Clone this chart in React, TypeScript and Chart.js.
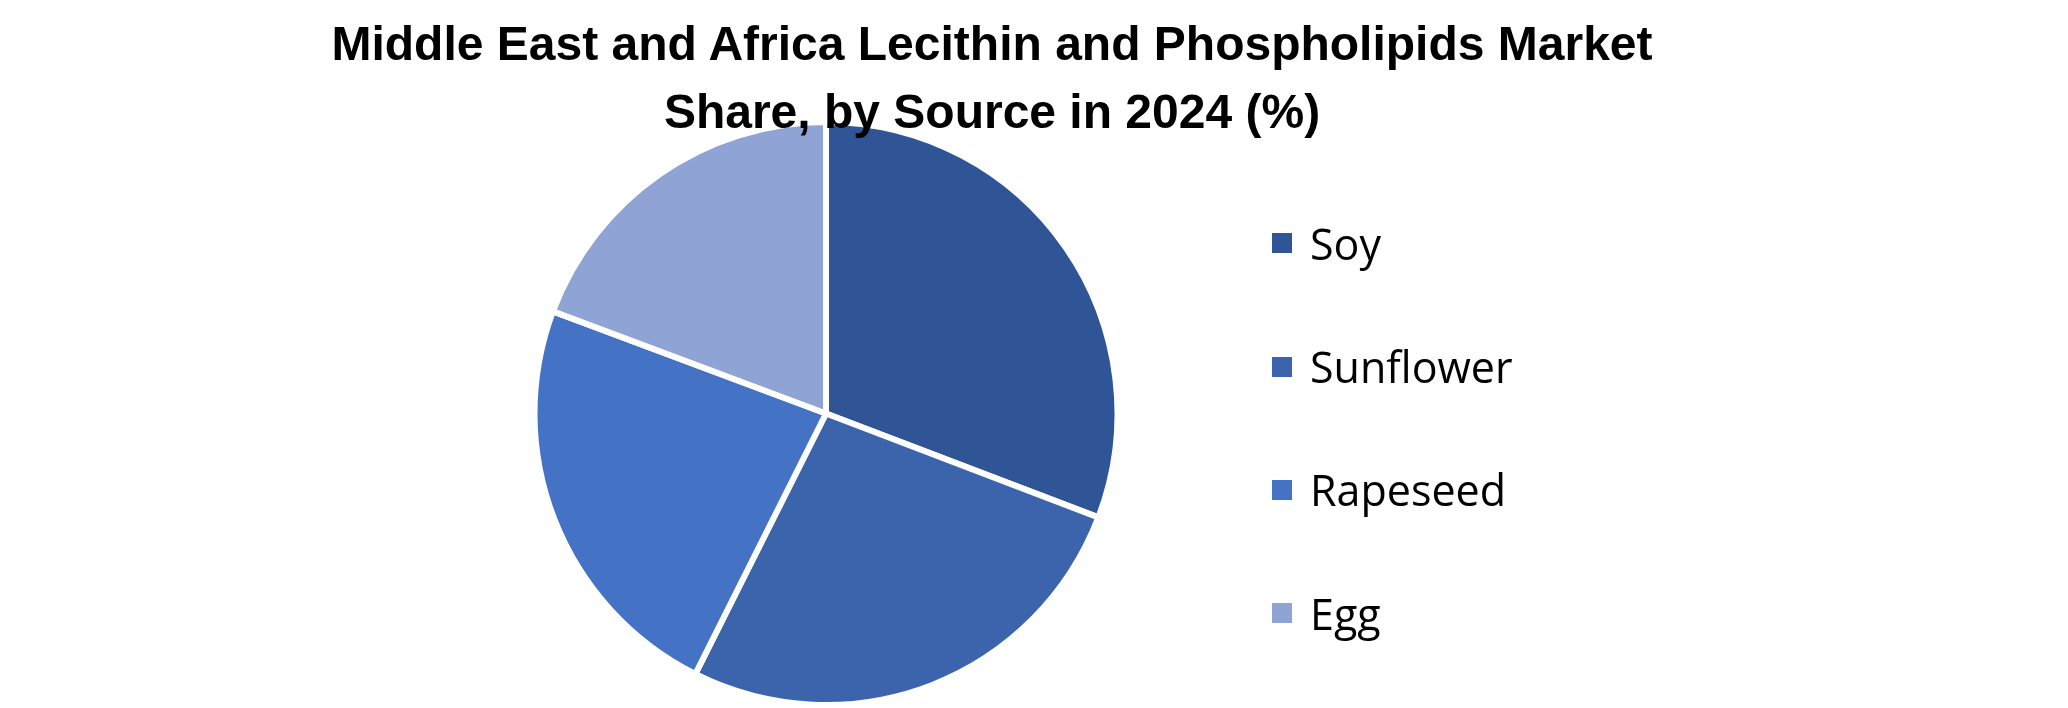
import { useEffect, useRef } from "react"
import { Chart, registerables } from "chart.js"

Chart.register(...registerables)

const titleLines = ["Middle East and Africa Lecithin and Phospholipids Market", "Share, by Source in 2024 (%)"]
const sources = ["Soy", "Sunflower", "Rapeseed", "Egg"]
const shares = [30.8, 26.6, 23.3, 19.3]
const sliceColors = ["#2F5597", "#3C64AC", "#4472C4", "#8FA4D4"]

export default function App() {
  const chartRef = useRef<HTMLCanvasElement>(null)
  const chartInstance = useRef<Chart | null>(null)

  useEffect(() => {
    document.body.style.margin = "0"
    if (chartRef.current) {
      const ctx = chartRef.current.getContext("2d")

      if (ctx) {
        if (chartInstance.current) {
          chartInstance.current.destroy()
        }

        chartInstance.current = new Chart(ctx, {
          type: "pie",
          data: {
            labels: sources,
            datasets: [
              {
                data: shares,
                backgroundColor: sliceColors,
                borderColor: "#ffffff",
                borderWidth: 6,
                radius: 291.5,
                clip: false,
              },
            ],
          },
          options: {
            responsive: false,
            animation: false,
            layout: {
              padding: { left: 0, right: 416, top: 119, bottom: 0 },
            },
            plugins: {
              legend: { display: false },
              title: { display: false },
              tooltip: { enabled: false },
            },
          },
        })
      }
    }

    return () => {
      if (chartInstance.current) {
        chartInstance.current.destroy()
        chartInstance.current = null
      }
    }
  }, [])

  return (
    <div style={{ position: "relative", width: "2068px", height: "708px", background: "#ffffff", overflow: "hidden" }}>
      <canvas ref={chartRef} width={2068} height={708} style={{ position: "absolute", left: 0, top: 0 }}></canvas>
      <div
        style={{
          position: "absolute",
          left: 0,
          top: "10px",
          width: "1984px",
          textAlign: "center",
          fontFamily: '"Liberation Sans Narrow", "Liberation Sans", sans-serif',
          fontWeight: "bold",
          fontSize: "48px",
          lineHeight: "67.5px",
          color: "#000000",
          whiteSpace: "nowrap",
        }}
      >
        {titleLines.map((line) => (
          <div key={line}>{line}</div>
        ))}
      </div>
      <div style={{ position: "absolute", left: "1272px", top: "181.6px" }}>
        {sources.map((name, i) => (
          <div key={name} style={{ display: "flex", alignItems: "center", height: "123.3px" }}>
            <span style={{ display: "inline-block", width: "20px", height: "20px", background: sliceColors[i] }}></span>
            <span
              style={{
                marginLeft: "18px",
                fontFamily: '"Open Sans", sans-serif',
                fontSize: "43px",
                color: "#000000",
                whiteSpace: "nowrap",
              }}
            >
              {name}
            </span>
          </div>
        ))}
      </div>
    </div>
  )
}
